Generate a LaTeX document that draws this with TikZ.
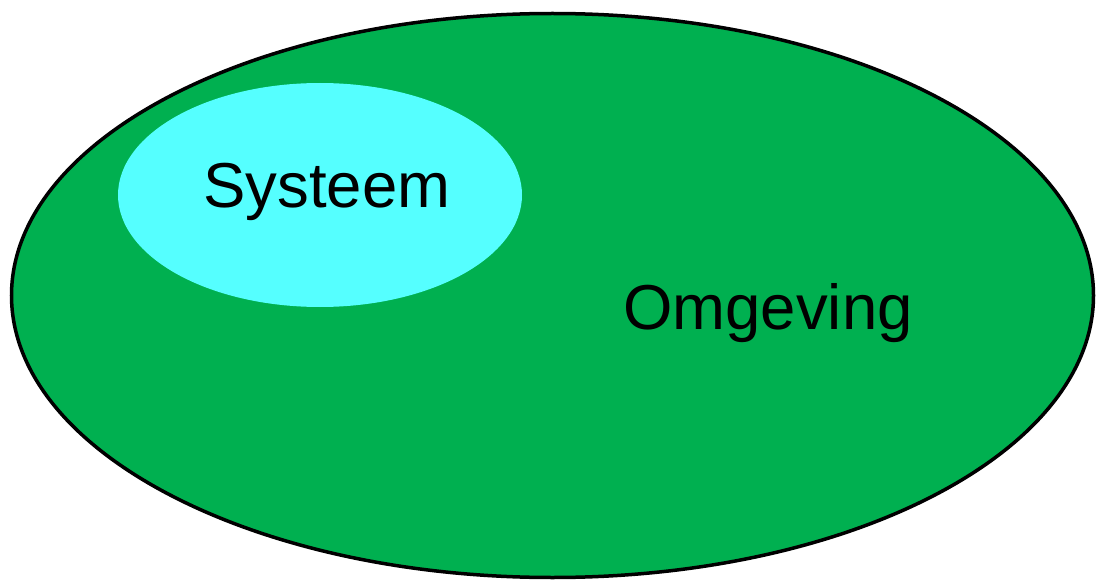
\documentclass[tikz,border=0pt]{standalone}
\usepackage{fontspec}
\setmainfont{Liberation Sans}
\usepackage{tikz}
\definecolor{omggreen}{RGB}{0,176,80}
\definecolor{syscyan}{RGB}{85,255,255}

\begin{document}
\begin{tikzpicture}[x=1pt,y=-1pt,
    lbl/.style={font=\fontsize{63.5}{70}\selectfont}]
  \useasboundingbox (0,0) rectangle (1096,583);
  % omgeving
  \draw[line width=3.5pt,fill=omggreen] (552.5,295.5) ellipse [x radius=541, y radius=282];
  % systeem
  \fill[syscyan] (320,195) ellipse [x radius=202, y radius=112];
  \node[lbl](sys) at (327,192){Systeem};
  \node[lbl](omg) at (768,313){Omgeving};
\end{tikzpicture}
\end{document}
